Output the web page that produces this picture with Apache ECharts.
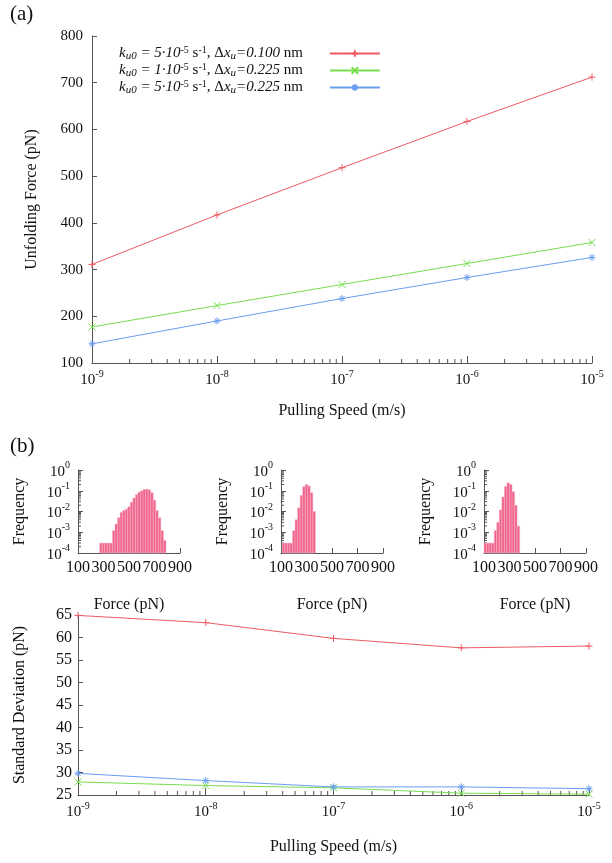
<!DOCTYPE html>
<html><head><meta charset="utf-8">
<script src="https://cdn.jsdelivr.net/npm/echarts@6/dist/echarts.min.js"></script>
<style>html,body{margin:0;padding:0;background:#fff}#c{width:612px;height:863px}</style>
</head><body><div id="c"></div>
<script>
// ---------- data ----------
const speeds = [1e-9, 1e-8, 1e-7, 1e-6, 1e-5];
const seriesKeys = ['A', 'B', 'C'];
const forceRed = [311, 417, 518, 617, 712];
const forceGreen = [177, 223, 268, 313, 358];
const forceBlue = [141, 190, 238, 283, 326];
const sdRed = [64.9, 63.3, 59.8, 57.7, 58.1];
const sdGreen = [27.9, 27.1, 26.6, 25.4, 25.2];
const sdBlue = [29.8, 28.2, 26.8, 26.8, 26.4];
const forceTicks = [100, 300, 500, 700, 900];

const hist1Edges = [270,290,310,330,350,370,390,410,430,450,470,490,510,530,550,570,590,610,630,650,670,690,710,730,750,770,790];
const hist1Freq = [3e-4,3e-4,3e-4,3e-4,3e-4,1.2e-3,2.5e-3,5e-3,9e-3,1.1e-2,1.3e-2,1.7e-2,2.8e-2,4.5e-2,6.5e-2,8.5e-2,0.10,0.115,0.12,0.11,0.08,0.035,1.1e-2,5e-3,1.2e-3,4e-4];
const hist2Edges = [110,130,150,170,190,210,230,250,270,290,310,330,350,370];
const hist2Freq = [3e-4,3e-4,3e-4,3e-4,1.2e-3,4e-3,1.5e-2,6e-2,0.16,0.2,0.17,0.08,1e-2];
const hist3Edges = [100,120,140,160,180,200,220,240,260,280,300,320,340,360,380];
const hist3Freq = [3e-4,3e-4,3e-4,3e-4,1.2e-3,3e-3,1.2e-2,5e-2,0.16,0.24,0.2,0.09,2e-2,2e-3];

// ---------- style ----------
const FONT = 'Liberation Serif';
const RED = '#ee5a62', GREEN = '#78dc50', BLUE = '#6a9ef0';
const AXIS = '#555';
const PINK = '#f0648c';

const legendText = {
  A: '{it|k}{sub|u0}{it| = 5·10}{sup|-5}{rm| s}{sup|-1}{rm|, Δ}{it|x}{sub|u}{it|=0.100}{rm| nm}',
  B: '{it|k}{sub|u0}{it| = 1·10}{sup|-5}{rm| s}{sup|-1}{rm|, Δ}{it|x}{sub|u}{it|=0.225}{rm| nm}',
  C: '{it|k}{sub|u0}{it| = 5·10}{sup|-5}{rm| s}{sup|-1}{rm|, Δ}{it|x}{sub|u}{it|=0.225}{rm| nm}'
};

const symPlus = 'path://M0,5L10,5M5,0L5,10';
const symCross = 'path://M0,0L10,10M10,0L0,10';
const symStar = 'path://M0,5L10,5M5,0L5,10M1.5,1.5L8.5,8.5M8.5,1.5L1.5,8.5';

function pow10(v) {
  const e = Math.round(Math.log10(v));
  return '{b|10}{s|' + e + '}';
}
const powRich = {
  b: {fontFamily: FONT, fontSize: 15, color: '#111', lineHeight: 19, verticalAlign: 'bottom'},
  s: {fontFamily: FONT, fontSize: 10, color: '#111', lineHeight: 10, verticalAlign: 'top'}
};
const txt = {fontFamily: FONT, fontSize: 15, color: '#111'};
const nameTxt = {fontFamily: FONT, fontSize: 16, color: '#111'};

function logAxis(gi, min, max, extra) {
  return Object.assign({
    type: 'log', logBase: 10, gridIndex: gi, min: min, max: max, splitNumber: 4,
    axisLine: {show: true, lineStyle: {color: AXIS, width: 1}},
    axisTick: {show: true, inside: true, length: 7, lineStyle: {color: AXIS}},
    splitLine: {show: false}, minorTick: {show: false},
    axisLabel: {formatter: pow10, rich: powRich, margin: 6}
  }, extra || {});
}

// minor tick decorations placed with the axes' own scales
function minorVals(e0, e1) {
  const out = [];
  for (let e = e0; e < e1; e++) for (let k = 2; k <= 9; k++) out.push(k * Math.pow(10, e));
  return out;
}
function tickSeries(xi, yi, pts, dir, len) {
  return {
    type: 'custom', xAxisIndex: xi, yAxisIndex: yi, silent: true, clip: false,
    data: pts, encode: {x: 0, y: 1}, z: 1,
    renderItem: function (p, api) {
      const c = api.coord([api.value(0), api.value(1)]);
      const sh = dir === 'up' ? {x1: c[0], y1: c[1], x2: c[0], y2: c[1] - len}
                              : {x1: c[0], y1: c[1], x2: c[0] + len, y2: c[1]};
      return {type: 'line', shape: sh, style: {stroke: AXIS, lineWidth: 1}};
    }
  };
}
function histSeries(xi, yi, edges, freq) {
  const d = freq.map((f, i) => [edges[i], edges[i + 1], f]);
  return {
    type: 'custom', xAxisIndex: xi, yAxisIndex: yi, data: d, encode: {x: [0, 1], y: 2},
    renderItem: function (p, api) {
      const a = api.coord([api.value(0), api.value(2)]);
      const b = api.coord([api.value(1), 1e-4]);
      return {type: 'rect', shape: {x: a[0], y: a[1], width: b[0] - a[0], height: b[1] - a[1]},
              style: {fill: PINK, stroke: '#f8b4c8', lineWidth: 0.5}};
    }
  };
}
function lineSeries(name, xi, yi, vals, color, sym) {
  return {
    name: name, type: 'line', xAxisIndex: xi, yAxisIndex: yi,
    data: speeds.map((s, i) => [s, vals[i]]),
    symbol: sym, symbolSize: 7, showSymbol: true,
    lineStyle: {color: color, width: 1},
    itemStyle: {color: color, borderColor: color, borderWidth: 1},
    emphasis: {disabled: true}, z: 3
  };
}

const histGrids = [
  {left: 78, width: 102},
  {left: 281, width: 102},
  {left: 484, width: 102}
];

const grid = [
  {left: 92, right: 20, top: 36, bottom: 500},
  ...histGrids.map(g => ({left: g.left, width: g.width, top: 470, bottom: 310})),
  {left: 78, right: 23, top: 615, bottom: 68}
];
grid.forEach(g => { g.containLabel = false; g.outerBoundsMode = 'none'; });

const xAxis = [
  logAxis(0, 1e-9, 1e-5, {name: 'Pulling Speed (m/s)', nameLocation: 'middle', nameGap: 40, nameTextStyle: nameTxt}),
  ...[1, 2, 3].map(i => ({
    type: 'value', gridIndex: i, min: 100, max: 900, interval: 200,
    axisLine: {show: true, lineStyle: {color: AXIS}},
    axisTick: {show: true, inside: true, length: 5, lineStyle: {color: AXIS}},
    splitLine: {show: false},
    axisLabel: Object.assign({}, txt, {fontSize: 16, margin: 7, formatter: v => String(v)}),
    name: 'Force (pN)', nameLocation: 'middle', nameGap: 44, nameTextStyle: nameTxt
  })),
  logAxis(4, 1e-9, 1e-5, {name: 'Pulling Speed (m/s)', nameLocation: 'middle', nameGap: 44, nameTextStyle: nameTxt})
];

const yAxis = [
  {type: 'value', gridIndex: 0, min: 100, max: 800, interval: 100,
   axisLine: {show: true, lineStyle: {color: AXIS}},
   axisTick: {show: true, inside: true, length: 5, lineStyle: {color: AXIS}},
   splitLine: {show: false},
   axisLabel: Object.assign({}, txt, {margin: 9}),
   name: 'Unfolding Force (pN)', nameLocation: 'middle', nameGap: 52, nameRotate: 90,
   nameTextStyle: nameTxt},
  ...[1, 2, 3].map(i => ({
    type: 'log', logBase: 10, gridIndex: i, min: 1e-4, max: 1, splitNumber: 4,
    axisLine: {show: true, lineStyle: {color: AXIS}},
    axisTick: {show: true, inside: true, length: 5, lineStyle: {color: AXIS}},
    splitLine: {show: false},
    axisLabel: {formatter: pow10, rich: powRich, margin: 8},
    name: 'Frequency', nameLocation: 'middle', nameGap: 50, nameRotate: 90,
    nameTextStyle: nameTxt
  })),
  {type: 'value', gridIndex: 4, min: 25, max: 65, interval: 5,
   axisLine: {show: true, lineStyle: {color: AXIS}},
   axisTick: {show: true, inside: true, length: 5, lineStyle: {color: AXIS}},
   splitLine: {show: false},
   axisLabel: Object.assign({}, txt, {fontSize: 16, margin: 6}),
   name: 'Standard Deviation (pN)', nameLocation: 'middle', nameGap: 50, nameRotate: 90,
   nameTextStyle: nameTxt}
];

const mx = minorVals(-9, -5);
const my = minorVals(-4, 0);

const series = [
  lineSeries('A', 0, 0, forceRed, RED, symPlus),
  lineSeries('B', 0, 0, forceGreen, GREEN, symCross),
  lineSeries('C', 0, 0, forceBlue, BLUE, symStar),
  tickSeries(0, 0, mx.map(v => [v, 100]), 'up', 4),
  histSeries(1, 1, hist1Edges, hist1Freq),
  histSeries(2, 2, hist2Edges, hist2Freq),
  histSeries(3, 3, hist3Edges, hist3Freq),
  tickSeries(1, 1, my.map(v => [100, v]), 'right', 3),
  tickSeries(2, 2, my.map(v => [100, v]), 'right', 3),
  tickSeries(3, 3, my.map(v => [100, v]), 'right', 3),
  lineSeries('sdA', 4, 4, sdRed, RED, symPlus),
  lineSeries('sdB', 4, 4, sdGreen, GREEN, symCross),
  lineSeries('sdC', 4, 4, sdBlue, BLUE, symStar),
  tickSeries(4, 4, mx.map(v => [v, 25]), 'up', 4)
];

const chart = echarts.init(document.getElementById('c'), null, {renderer: 'canvas'});
chart.setOption({
  backgroundColor: '#fff',
  animation: false,
  grid: grid, xAxis: xAxis, yAxis: yAxis, series: series,
  legend: {
    data: seriesKeys, orient: 'vertical', left: 114, top: 40, itemGap: 0,
    align: 'right', itemWidth: 50, itemHeight: 8, selectedMode: false,
    formatter: n => legendText[n],
    textStyle: {
      padding: [0, 22, 0, 0],
      rich: {
        it: {fontFamily: FONT, fontSize: 15, fontStyle: 'italic', color: '#111', lineHeight: 17, verticalAlign: 'middle'},
        rm: {fontFamily: FONT, fontSize: 15, color: '#111', lineHeight: 17, verticalAlign: 'middle'},
        sub: {fontFamily: FONT, fontSize: 11, fontStyle: 'italic', color: '#111', lineHeight: 9, verticalAlign: 'bottom'},
        sup: {fontFamily: FONT, fontSize: 10, color: '#111', lineHeight: 9, verticalAlign: 'top'}
      }
    }
  },
  graphic: [
    {type: 'text', left: 10, top: 4, style: {text: '(a)', fontFamily: FONT, fontSize: 21, fill: '#111'}},
    {type: 'text', left: 10, top: 436, style: {text: '(b)', fontFamily: FONT, fontSize: 21, fill: '#111'}}
  ]
});
</script>
</body></html>
